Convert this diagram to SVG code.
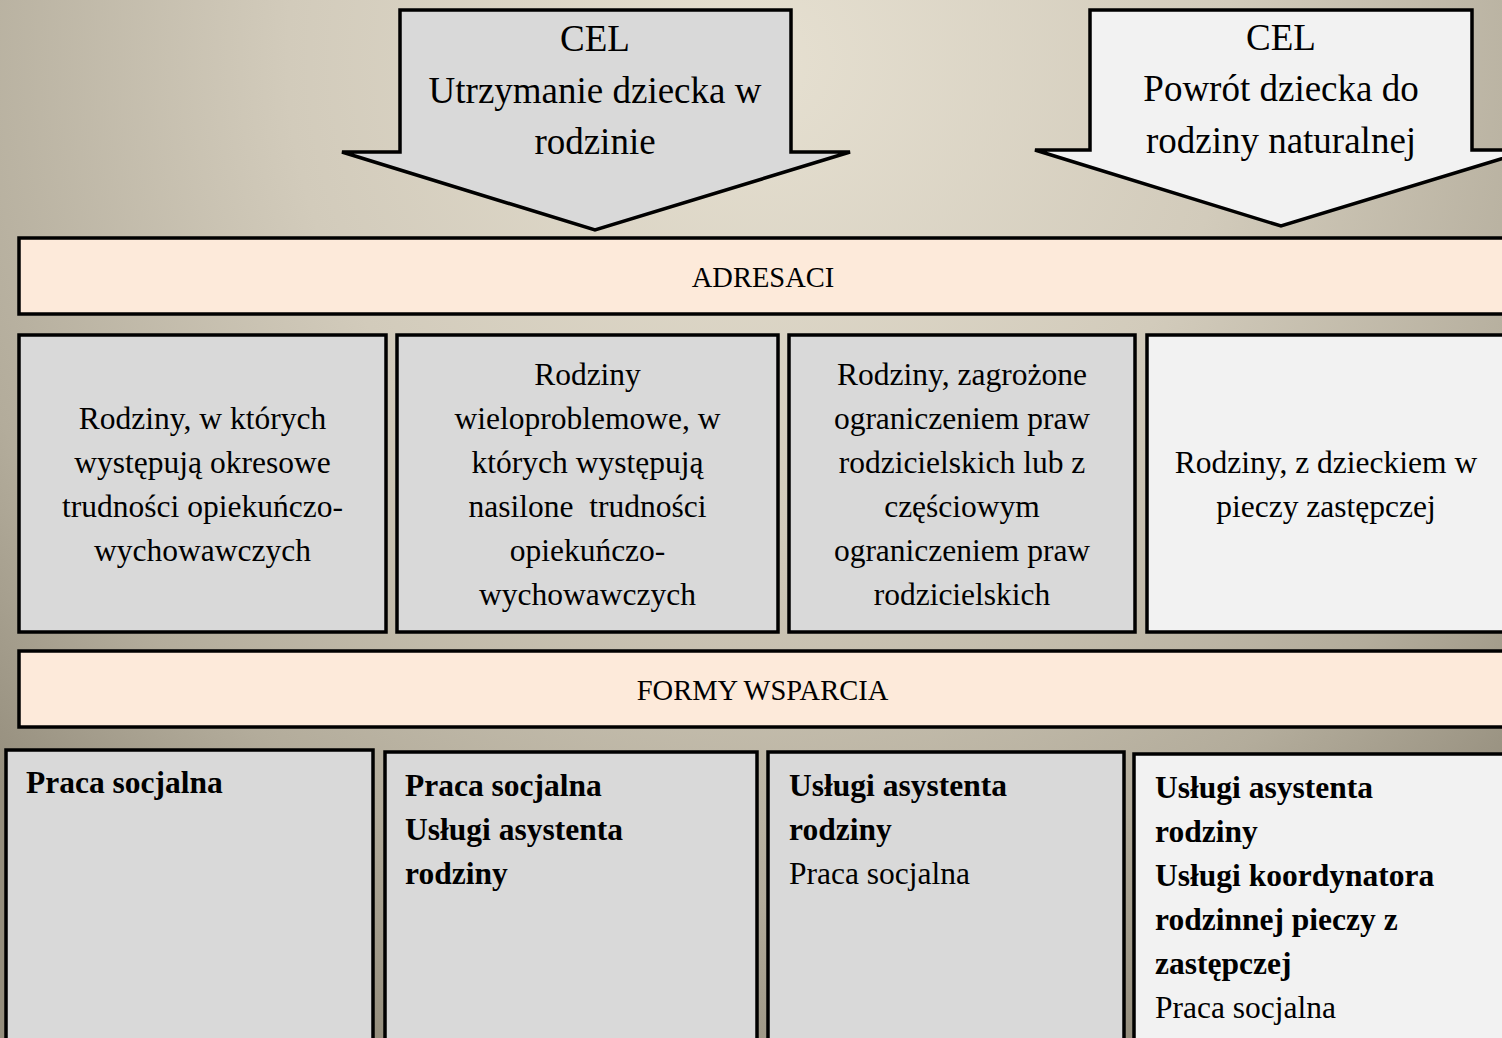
<svg xmlns="http://www.w3.org/2000/svg" width="1502" height="1038" viewBox="0 0 1502 1038">
<defs>
<radialGradient id="bg" gradientUnits="userSpaceOnUse" cx="760" cy="60" r="1050">
<stop offset="0" stop-color="#E6E0D1"/>
<stop offset="0.45" stop-color="#D2CBBB"/>
<stop offset="0.8" stop-color="#B3AC9B"/>
<stop offset="1" stop-color="#958E7D"/>
</radialGradient>
<style>
.sh{stroke:#000;stroke-width:3.5;stroke-linejoin:miter}
.g{fill:#D9D9D9}
.w{fill:#F2F2F2}
.p{fill:#FDEADA}
text{font-family:"Liberation Serif","Times New Roman",serif;fill:#000}
.t{font-size:31.5px}
.a{font-size:37px;text-anchor:middle}
.c{text-anchor:middle}
.h{font-size:28.5px;text-anchor:middle}
.b{font-weight:bold}
</style>
</defs>
<rect width="1502" height="1038" fill="url(#bg)"/>

<g id="cel-left">
<polygon class="sh g" points="400,10 791,10 791,152 850,152 595,230 342,152 400,152"/>
<text class="a" x="595" y="51">CEL</text>
<text class="a" x="595" y="103">Utrzymanie dziecka w</text>
<text class="a" x="595" y="154">rodzinie</text>
</g>

<g id="cel-right">
<polygon class="sh w" points="1090,10 1472,10 1472,150 1530,150 1281,226 1035,150 1090,150"/>
<text class="a" x="1281" y="50">CEL</text>
<text class="a" x="1281" y="101">Powrót dziecka do</text>
<text class="a" x="1281" y="153">rodziny naturalnej</text>
</g>

<g id="adresaci">
<rect class="sh p" x="19" y="238" width="1500" height="76"/>
<text class="h" x="763" y="287">ADRESACI</text>
</g>

<g id="adr1">
<rect class="sh g" x="19" y="335" width="367" height="297"/>
<text class="t c" x="202.5" y="429">Rodziny, w których</text>
<text class="t c" x="202.5" y="473">występują okresowe</text>
<text class="t c" x="202.5" y="517">trudności opiekuńczo-</text>
<text class="t c" x="202.5" y="561">wychowawczych</text>
</g>

<g id="adr2">
<rect class="sh g" x="397" y="335" width="381" height="297"/>
<text class="t c" x="587.5" y="385">Rodziny</text>
<text class="t c" x="587.5" y="429">wieloproblemowe, w</text>
<text class="t c" x="587.5" y="473">których występują</text>
<text class="t c" x="587.5" y="517" xml:space="preserve">nasilone  trudności</text>
<text class="t c" x="587.5" y="561">opiekuńczo-</text>
<text class="t c" x="587.5" y="605">wychowawczych</text>
</g>

<g id="adr3">
<rect class="sh g" x="789" y="335" width="346" height="297"/>
<text class="t c" x="962" y="385">Rodziny, zagrożone</text>
<text class="t c" x="962" y="429">ograniczeniem praw</text>
<text class="t c" x="962" y="473">rodzicielskich lub z</text>
<text class="t c" x="962" y="517">częściowym</text>
<text class="t c" x="962" y="561">ograniczeniem praw</text>
<text class="t c" x="962" y="605">rodzicielskich</text>
</g>

<g id="adr4">
<rect class="sh w" x="1147" y="335" width="380" height="297"/>
<text class="t c" x="1326" y="473">Rodziny, z dzieckiem w</text>
<text class="t c" x="1326" y="517">pieczy zastępczej</text>
</g>

<g id="formy">
<rect class="sh p" x="19" y="651" width="1500" height="76"/>
<text class="h" x="762.5" y="700">FORMY WSPARCIA</text>
</g>

<g id="f1">
<rect class="sh g" x="6" y="750" width="367" height="310"/>
<text class="t b" x="26" y="793">Praca socjalna</text>
</g>

<g id="f2">
<rect class="sh g" x="385" y="752" width="372" height="310"/>
<text class="t b" x="405" y="796">Praca socjalna</text>
<text class="t b" x="405" y="840">Usługi asystenta</text>
<text class="t b" x="405" y="884">rodziny</text>
</g>

<g id="f3">
<rect class="sh g" x="768" y="752" width="356" height="310"/>
<text class="t b" x="789" y="796">Usługi asystenta</text>
<text class="t b" x="789" y="840">rodziny</text>
<text class="t" x="789" y="884">Praca socjalna</text>
</g>

<g id="f4">
<rect class="sh w" x="1134" y="754" width="400" height="310"/>
<text class="t b" x="1155" y="798">Usługi asystenta</text>
<text class="t b" x="1155" y="842">rodziny</text>
<text class="t b" x="1155" y="886">Usługi koordynatora</text>
<text class="t b" x="1155" y="930">rodzinnej pieczy z</text>
<text class="t b" x="1155" y="974">zastępczej</text>
<text class="t" x="1155" y="1018">Praca socjalna</text>
</g>

<g id="connectors"></g>
</svg>
